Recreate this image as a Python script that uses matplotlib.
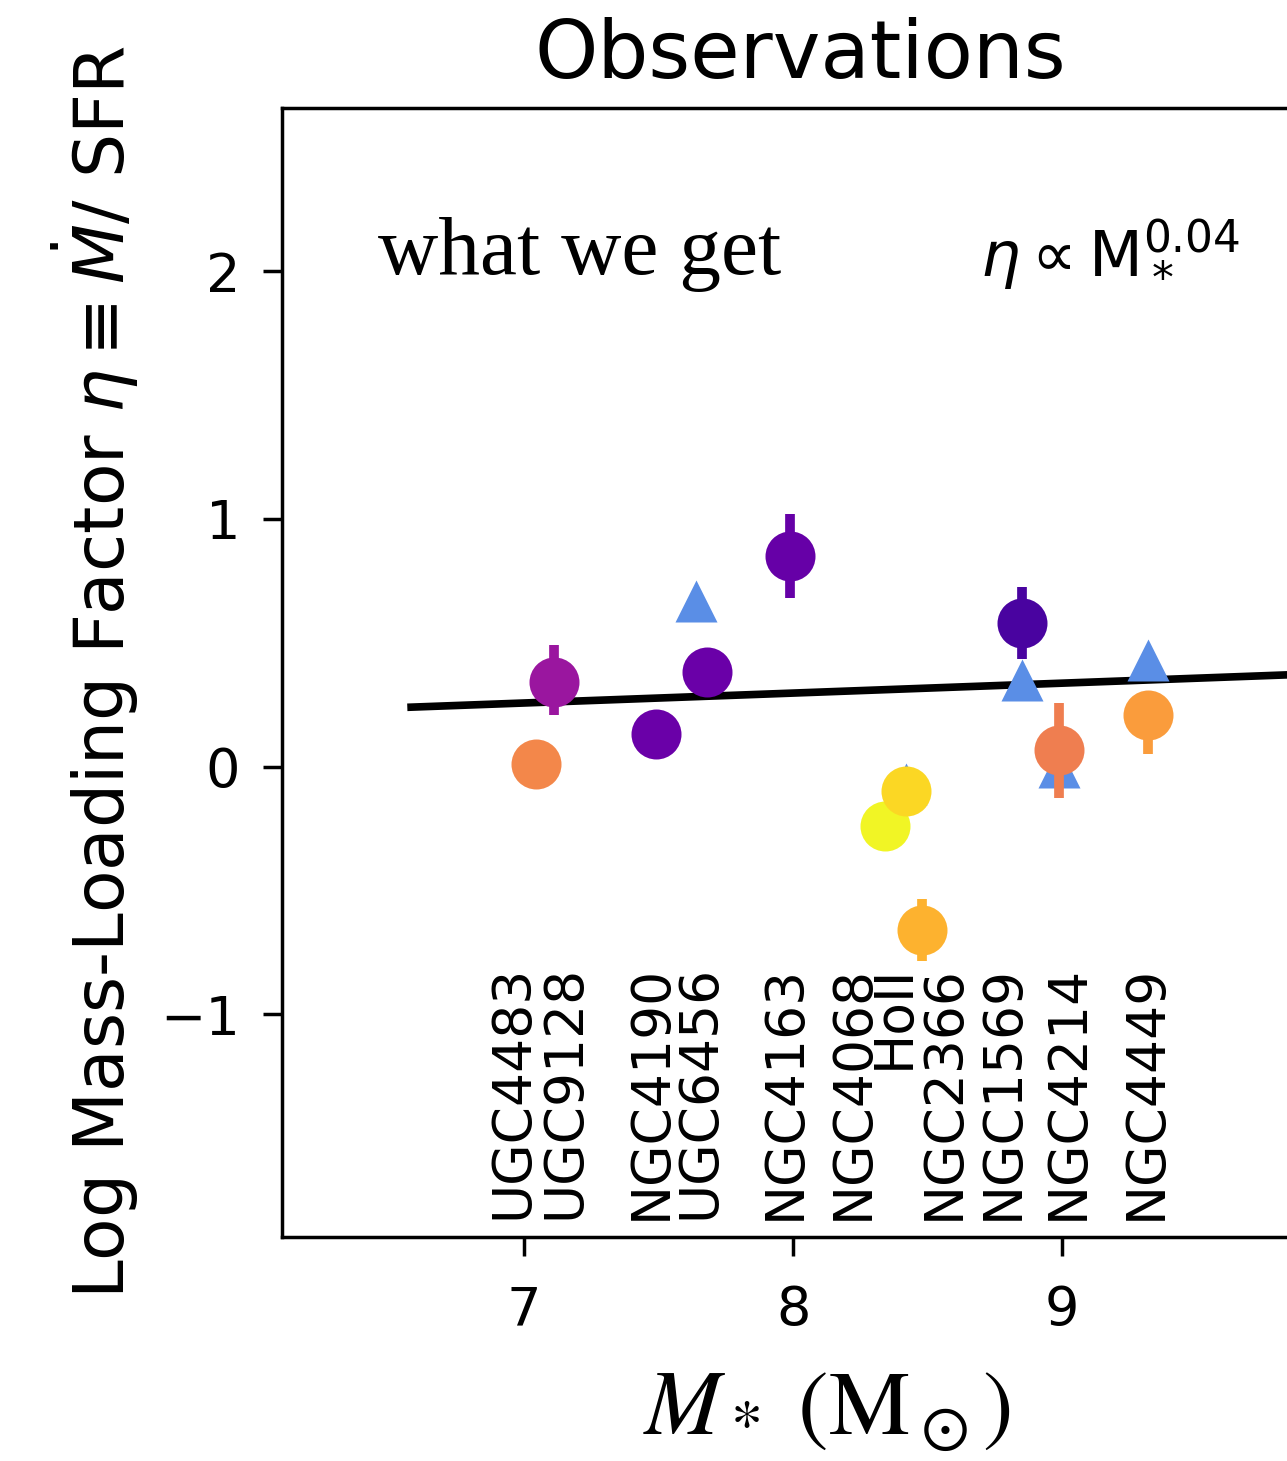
import numpy as np
import matplotlib.pyplot as plt

# circles: log M*, log eta, errors (low / high), colour value (plasma)
circ_x = [7.045, 7.11, 7.49, 7.68, 7.99, 8.34, 8.42, 8.48, 8.85, 8.99, 9.32]
circ_y = [0.01, 0.34, 0.13, 0.38, 0.85, -0.24, -0.10, -0.66, 0.58, 0.065, 0.21]
err_lo = [0.0, 0.13, 0.0, 0.0, 0.17, 0.0, 0.0, 0.125, 0.145, 0.19, 0.16]
err_hi = [0.0, 0.15, 0.0, 0.0, 0.17, 0.0, 0.0, 0.125, 0.145, 0.19, 0.08]
circ_c = [0.71, 0.33, 0.20, 0.20, 0.19, 0.99, 0.92, 0.83, 0.12, 0.68, 0.77]

# triangles
tri_x = [7.64, 8.42, 8.85, 8.99, 9.32]
tri_y = [0.67, -0.07, 0.35, 0.0, 0.43]

# fit line  eta ~ M^0.04
fit_x = [6.58, 10.0]
fit_y = [0.24, 0.377]

gal_names = ['UGC4483', 'UGC9128', 'NGC4190', 'UGC6456', 'NGC4163', 'NGC4068',
             'HoII', 'NGC2366', 'NGC1569', 'NGC4214', 'NGC4449']
gal_x = [6.955, 7.15, 7.47, 7.65, 7.97, 8.22, 8.375, 8.56, 8.78, 9.02, 9.31]

fig = plt.figure(figsize=(12.87, 14.61), dpi=100)
ax = fig.add_axes([0.2191, 0.1533, 0.8048, 0.7728])

cmap = plt.get_cmap('plasma')

ax.plot(fit_x, fit_y, color='black', lw=5.5, zorder=2)
ax.plot(tri_x, tri_y, ls='none', marker='^', ms=30, color='#5a8ee6',
        mec='none', zorder=3)
for x, y, lo, hi, c in zip(circ_x, circ_y, err_lo, err_hi, circ_c):
    col = cmap(c)
    ax.errorbar(x, y, yerr=[[lo], [hi]], fmt='o', ms=36, color=col, mec='none',
                elinewidth=7, capsize=0, zorder=4)

for name, x in zip(gal_names, gal_x):
    ax.text(x, -0.80, name, rotation=90, ha='center', va='top', fontsize=38.5)

ax.text(6.457, 1.99, 'what we get', fontsize=60, family='Liberation Serif',
        va='baseline', ha='left')
ax.text(9.66, 1.99, r'$\eta \propto \mathrm{M}_*^{0.04}$', fontsize=45,
        va='baseline', ha='right')

ax.set_xlim(6.1, 9.95)
ax.set_ylim(-1.90, 2.66)
ax.set_xticks([7, 8, 9])
ax.set_yticks([-1, 0, 1, 2])
ax.tick_params(labelsize=39, width=2.5, length=14)
ax.tick_params(axis='x', pad=20)
ax.tick_params(axis='y', pad=16)
for s in ax.spines.values():
    s.set_linewidth(2.5)

ax.set_title('Observations', fontsize=58, pad=22)
ax.set_ylabel(r'Log Mass-Loading Factor $\eta \equiv \dot{M}$/ SFR', fontsize=50, labelpad=14)
ax.set_xlabel(r'$M_* \ (\mathrm{M}_\odot)$', fontsize=66, math_fontfamily='stix')
ax.xaxis.set_label_coords(0.526, -0.112)

fig.savefig('out.png', dpi=100)
